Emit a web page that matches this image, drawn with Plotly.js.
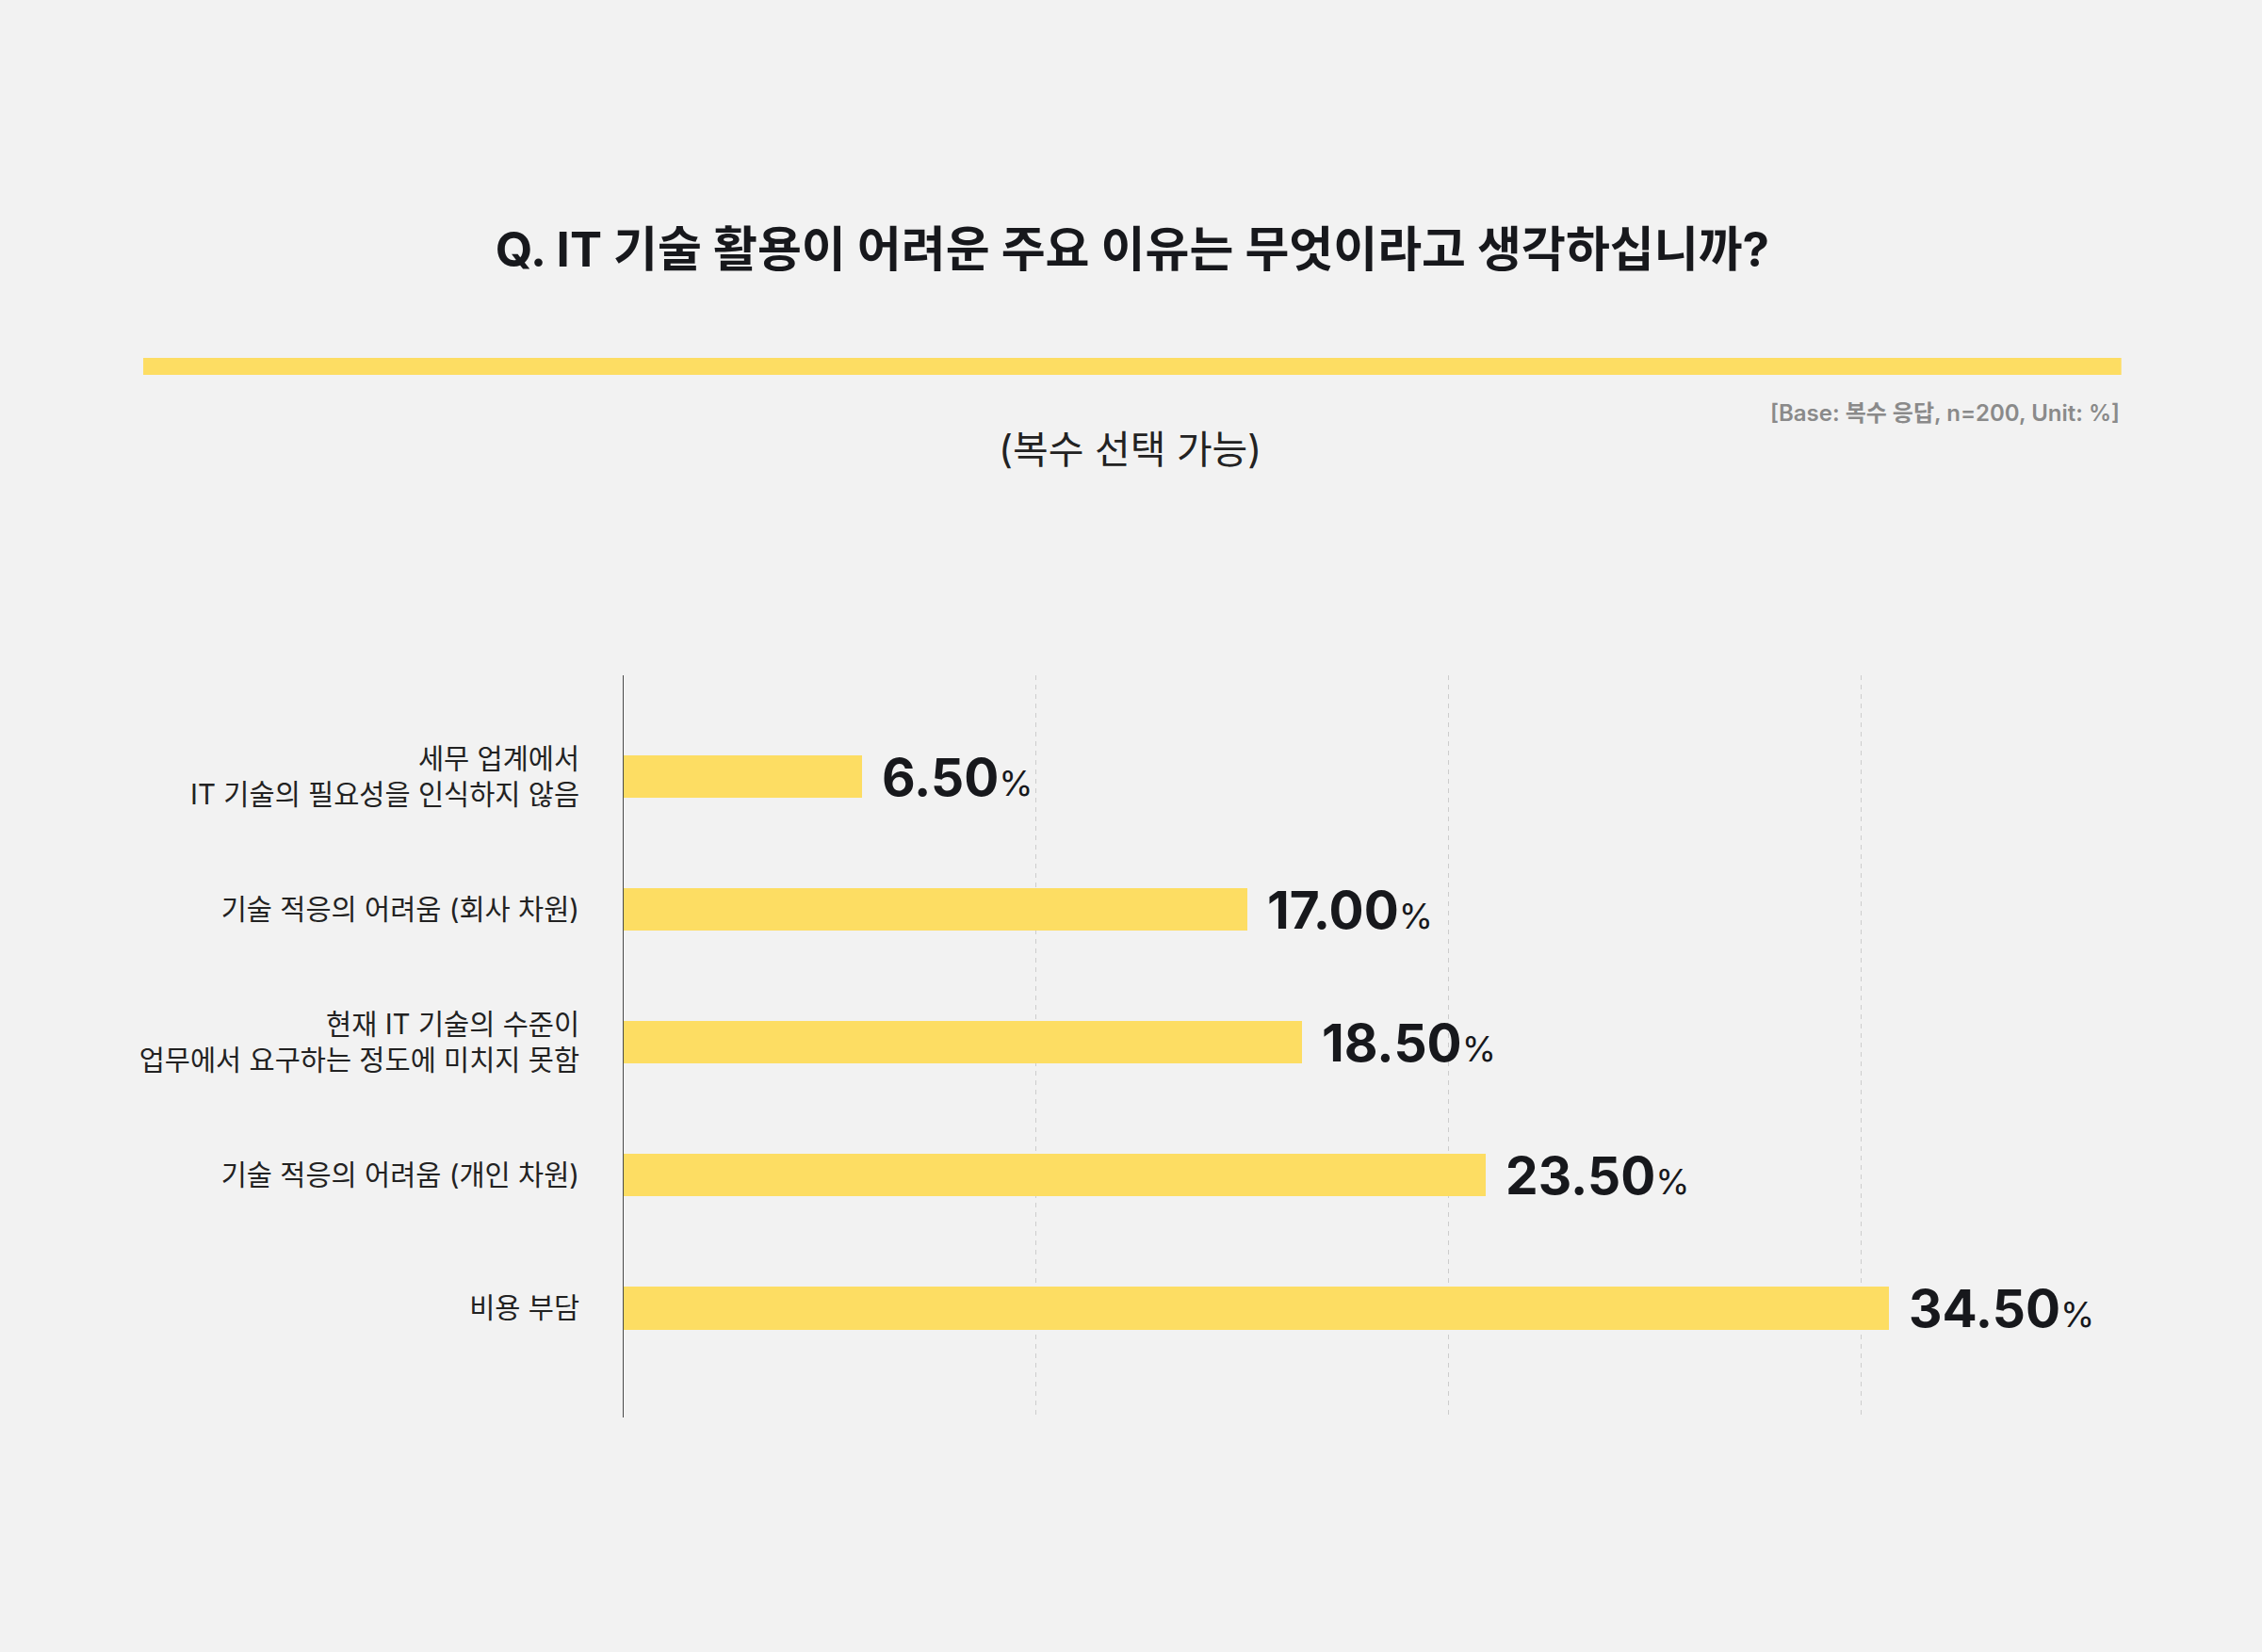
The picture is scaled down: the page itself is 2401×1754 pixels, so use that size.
<!DOCTYPE html>
<html lang="ko">
<head>
<meta charset="utf-8">
<script src="https://cdn.plot.ly/plotly-3.0.1.min.js"></script>
<style>
  html, body { margin: 0; padding: 0; background: #f2f2f2; }
  #chart { width: 2401px; height: 1754px; }
</style>
</head>
<body>
<div id="chart"></div>
<script>
// ===== 데이터 =====
const categories = [
  "세무 업계에서<br>IT 기술의 필요성을 인식하지 않음",
  "기술 적응의 어려움 (회사 차원)",
  "현재 IT 기술의 수준이<br>업무에서 요구하는 정도에 미치지 못함",
  "기술 적응의 어려움 (개인 차원)",
  "비용 부담"
];
const values = [6.5, 17.0, 18.5, 23.5, 34.5];
const gridTicks = [11.25, 22.5, 33.75];

const titleText = "Q. IT 기술 활용이 어려운 주요 이유는 무엇이라고 생각하십니까?";
const subtitleText = "(복수 선택 가능)";
const baseNote = "[Base: 복수 응답, n=200, Unit: %]";

const FONT = "Inter, 'Noto Sans CJK KR', sans-serif";
const YELLOW = "#fddd63";
const INK = "#17181c";

// ===== 막대 =====
const trace = {
  type: "bar",
  orientation: "h",
  x: values,
  y: categories,
  width: 0.32,
  marker: { color: YELLOW },
  hoverinfo: "skip"
};

// 값 라벨
const valueLabels = values.map((v, i) => ({
  x: v,
  y: categories[i],
  xref: "x",
  yref: "y",
  xanchor: "left",
  yanchor: "middle",
  xshift: 19,
  showarrow: false,
  text: "<b>" + v.toFixed(2) + "</b><span style='font-size:37px;font-weight:400'>%</span>",
  font: { family: FONT, size: 55, color: INK }
}));

const layout = {
  width: 2401,
  height: 1754,
  paper_bgcolor: "#f2f2f2",
  plot_bgcolor: "#f2f2f2",
  margin: { l: 662, r: 26, t: 717, b: 249 },
  showlegend: false,
  bargap: 0,
  title: {
    text: titleText,
    x: 0.5006,
    xanchor: "center",
    y: 0.849,
    yanchor: "middle",
    font: { family: FONT, size: 51, color: INK, weight: 700 }
  },
  xaxis: {
    range: [0, 44],
    tickvals: gridTicks,
    showticklabels: false,
    showgrid: true,
    gridcolor: "#cdcdcd",
    gridwidth: 1,
    griddash: "5px,5px",
    zeroline: false,
    showline: false,
    fixedrange: true
  },
  yaxis: {
    range: [4.822, -0.762],
    type: "category",
    showline: true,
    linecolor: "#4a4a4a",
    linewidth: 1,
    showgrid: false,
    zeroline: false,
    ticks: "",
    ticklabelstandoff: 40,
    tickfont: { family: FONT, size: 29.5, color: "#222222" },
    fixedrange: true
  },
  shapes: [
    {
      type: "rect",
      xref: "paper", yref: "paper",
      x0: -0.2977, x1: 0.928,
      y0: 1.4048, y1: 1.4277,
      fillcolor: YELLOW,
      line: { width: 0 }
    }
  ],
  annotations: [
    {
      text: subtitleText,
      xref: "paper", yref: "paper",
      x: 0.314, y: 1.3046,
      xanchor: "center", yanchor: "middle",
      showarrow: false,
      font: { family: FONT, size: 41, color: "#222222" }
    },
    {
      text: baseNote,
      xref: "paper", yref: "paper",
      x: 0.928, y: 1.354,
      xanchor: "right", yanchor: "middle",
      showarrow: false,
      font: { family: FONT, size: 24, color: "#8a8a8a", weight: 600 }
    }
  ].concat(valueLabels)
};

Plotly.newPlot("chart", [trace], layout, { staticPlot: true, displayModeBar: false });
</script>
</body>
</html>
